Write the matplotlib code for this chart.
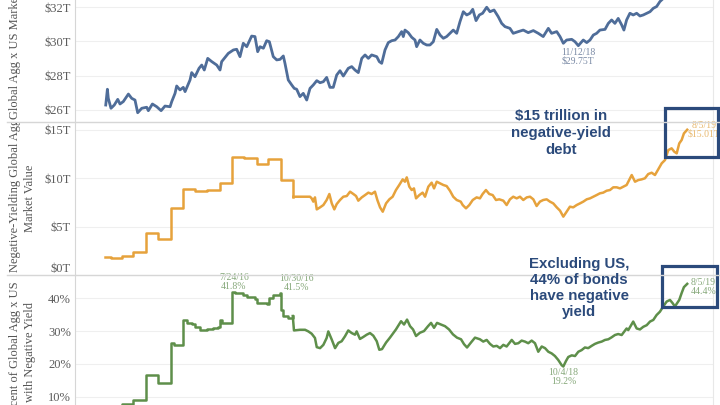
import matplotlib
matplotlib.use('Agg')
import matplotlib.pyplot as plt
from matplotlib.patches import Rectangle
from matplotlib.lines import Line2D
from matplotlib.transforms import Bbox, TransformedBbox

plt.rcParams['font.family'] = ['Liberation Serif', 'DejaVu Serif']

# ---- data (x in decimal years) ----
blue_t = [2015.718, 2015.729, 2015.735, 2015.753, 2015.775, 2015.798, 2015.813, 2015.835,
          2015.869, 2015.891, 2015.913, 2015.931, 2015.958, 2015.991, 2016.002, 2016.029,
          2016.058, 2016.087, 2016.113, 2016.147, 2016.158, 2016.180, 2016.191, 2016.213,
          2016.235, 2016.247, 2016.280, 2016.291, 2016.313, 2016.340, 2016.358, 2016.375,
          2016.398, 2016.425, 2016.458, 2016.480, 2016.491, 2016.535, 2016.569, 2016.591,
          2016.613, 2016.635, 2016.658, 2016.691, 2016.713, 2016.731, 2016.747, 2016.769,
          2016.791, 2016.809, 2016.835, 2016.858, 2016.880, 2016.902, 2016.913, 2016.935,
          2016.958, 2016.975, 2016.991, 2017.013, 2017.035, 2017.058, 2017.080, 2017.102,
          2017.125, 2017.147, 2017.169, 2017.191, 2017.213, 2017.235, 2017.258, 2017.280,
          2017.302, 2017.335, 2017.358, 2017.380, 2017.402, 2017.425, 2017.447, 2017.469,
          2017.491, 2017.525, 2017.542, 2017.558, 2017.580, 2017.602, 2017.625, 2017.647,
          2017.669, 2017.691, 2017.702, 2017.713, 2017.735, 2017.758, 2017.780, 2017.791,
          2017.813, 2017.835, 2017.858, 2017.880, 2017.902, 2017.925, 2017.947, 2017.969,
          2017.991, 2018.013, 2018.035, 2018.058, 2018.080, 2018.102, 2018.125, 2018.147,
          2018.165, 2018.187, 2018.209, 2018.231, 2018.258, 2018.280, 2018.307, 2018.335,
          2018.358, 2018.380, 2018.413, 2018.435, 2018.469, 2018.502, 2018.535, 2018.569,
          2018.602, 2018.635, 2018.669, 2018.691, 2018.725, 2018.747, 2018.769, 2018.791,
          2018.825, 2018.847, 2018.869, 2018.902, 2018.925, 2018.947, 2018.969, 2018.991,
          2019.013, 2019.047, 2019.069, 2019.091, 2019.113, 2019.135, 2019.158, 2019.173,
          2019.191, 2019.213, 2019.235, 2019.258, 2019.280, 2019.302, 2019.325, 2019.347,
          2019.369, 2019.391, 2019.413, 2019.447, 2019.493, 2019.547, 2019.595]
blue_v = [26.29, 27.21, 26.68, 26.10, 26.29, 26.62, 26.35, 26.49,
          26.93, 26.68, 26.58, 25.84, 26.10, 26.16, 25.96, 26.35,
          26.19, 25.96, 26.23, 26.19, 26.49, 26.97, 27.40, 27.17,
          27.32, 27.07, 27.75, 28.18, 27.94, 28.43, 28.62, 28.33,
          29.01, 28.82, 28.62, 28.33, 28.82, 29.30, 29.50, 29.54,
          29.11, 29.89, 29.69, 30.31, 30.28, 29.40, 29.69, 29.60,
          30.04, 29.98, 29.11, 28.92, 28.95, 29.15, 28.72, 27.75,
          27.46, 27.26, 27.21, 26.78, 26.97, 26.58, 27.26, 27.46,
          27.71, 27.59, 27.65, 27.90, 27.32, 27.32, 28.04, 28.29,
          27.98, 28.43, 28.53, 28.33, 28.18, 29.01, 29.21, 29.01,
          29.21, 29.11, 28.82, 28.72, 29.50, 29.93, 30.04, 30.08,
          30.28, 30.57, 30.28, 30.66, 30.51, 30.24, 30.08, 29.69,
          30.08, 29.89, 29.79, 29.79, 29.98, 30.70, 30.37, 30.18,
          30.28, 30.47, 30.66, 30.47, 31.15, 31.73, 31.54, 31.64,
          31.87, 31.21, 31.54, 31.64, 31.99, 31.73, 31.83, 31.44,
          31.05, 30.86, 30.76, 30.47, 30.57, 30.66, 30.51, 30.63,
          30.47, 30.28, 30.76, 30.47, 30.57, 30.28, 29.89, 30.08,
          30.12, 29.98, 29.75, 30.08, 29.93, 30.08, 30.37, 30.47,
          30.66, 30.70, 31.05, 31.25, 31.05, 31.34, 30.96, 30.66,
          31.25, 31.64, 31.54, 31.64, 31.48, 31.54, 31.64, 31.73,
          31.93, 32.03, 32.32, 32.60, 32.90, 33.10, 33.30]

orange_t = [2015.713, 2015.755, 2015.825, 2015.902, 2015.987, 2016.069, 2016.151, 2016.235,
            2016.313, 2016.395, 2016.480, 2016.558, 2016.640, 2016.725, 2016.802, 2016.887,
            2016.969, 2017.080, 2017.091, 2017.102, 2017.113, 2017.125, 2017.147, 2017.169,
            2017.191, 2017.209, 2017.225, 2017.242, 2017.258, 2017.280, 2017.302, 2017.325,
            2017.347, 2017.369, 2017.387, 2017.402, 2017.425, 2017.447, 2017.469, 2017.491,
            2017.513, 2017.529, 2017.547, 2017.565, 2017.587, 2017.609, 2017.631, 2017.653,
            2017.675, 2017.698, 2017.713, 2017.725, 2017.742, 2017.758, 2017.773, 2017.787,
            2017.809, 2017.831, 2017.847, 2017.869, 2017.891, 2017.907, 2017.925, 2017.947,
            2017.969, 2017.991, 2018.013, 2018.035, 2018.058, 2018.085, 2018.098, 2018.120,
            2018.142, 2018.165, 2018.191, 2018.213, 2018.231, 2018.253, 2018.275, 2018.298,
            2018.320, 2018.342, 2018.369, 2018.391, 2018.413, 2018.435, 2018.458, 2018.480,
            2018.502, 2018.525, 2018.547, 2018.569, 2018.591, 2018.613, 2018.635, 2018.658,
            2018.680, 2018.702, 2018.725, 2018.747, 2018.769, 2018.791, 2018.813, 2018.835,
            2018.858, 2018.880, 2018.902, 2018.925, 2018.947, 2018.969, 2018.991, 2019.013,
            2019.035, 2019.058, 2019.080, 2019.102, 2019.125, 2019.147, 2019.191, 2019.225,
            2019.247, 2019.269, 2019.291, 2019.313, 2019.335, 2019.358, 2019.380, 2019.402,
            2019.425, 2019.447, 2019.469, 2019.491, 2019.509, 2019.525, 2019.542, 2019.558,
            2019.573, 2019.595]
orange_v = [1.83, 1.74, 1.96, 2.34, 4.30, 3.72, 6.96, 8.88,
            8.68, 8.82, 9.54, 12.16, 12.05, 11.43, 11.95, 9.85,
            8.09, 8.09, 7.92, 7.58, 8.02, 6.78, 6.99, 7.23,
            7.75, 8.37, 7.40, 6.78, 7.33, 7.75, 8.09, 8.16,
            8.61, 8.37, 8.16, 7.68, 8.02, 8.26, 8.51, 8.37,
            8.61, 7.75, 6.99, 6.54, 7.40, 7.82, 8.09, 8.78,
            9.30, 9.88, 9.64, 10.09, 9.13, 8.78, 8.95, 7.92,
            8.26, 8.51, 8.09, 9.13, 9.54, 8.95, 9.64, 9.47,
            9.30, 9.19, 8.71, 8.09, 7.75, 7.58, 7.23, 6.89,
            7.23, 7.75, 8.02, 7.92, 8.37, 8.78, 8.37, 8.26,
            7.75, 7.82, 7.68, 7.23, 7.82, 8.09, 7.92, 8.09,
            7.75, 8.02, 8.09, 7.82, 7.13, 7.58, 7.75, 7.82,
            7.58, 7.40, 6.99, 6.65, 6.03, 6.54, 7.06, 6.99,
            7.23, 7.40, 7.58, 7.82, 7.92, 8.09, 8.26, 8.44,
            8.51, 8.71, 8.78, 9.06, 9.06, 8.95, 9.30, 10.33,
            9.64, 9.81, 9.88, 9.99, 10.43, 10.57, 10.33, 10.92,
            11.54, 11.88, 12.91, 13.09, 12.74, 12.57, 13.60, 13.95,
            14.63, 15.01]

green_t = [2015.713, 2015.825, 2015.902, 2015.987, 2016.069, 2016.151, 2016.170, 2016.235,
           2016.262, 2016.291, 2016.313, 2016.347, 2016.391, 2016.435, 2016.469, 2016.480,
           2016.491, 2016.547, 2016.558, 2016.580, 2016.613, 2016.635, 2016.658, 2016.691,
           2016.713, 2016.729, 2016.769, 2016.795, 2016.809, 2016.835, 2016.880, 2016.885,
           2016.902, 2016.935, 2016.965, 2016.973, 2017.013, 2017.047, 2017.069, 2017.091,
           2017.113, 2017.125, 2017.147, 2017.169, 2017.191, 2017.202, 2017.225, 2017.247,
           2017.269, 2017.291, 2017.313, 2017.335, 2017.358, 2017.380, 2017.391, 2017.413,
           2017.435, 2017.458, 2017.480, 2017.502, 2017.525, 2017.542, 2017.560, 2017.587,
           2017.613, 2017.653, 2017.687, 2017.707, 2017.727, 2017.747, 2017.767, 2017.787,
           2017.813, 2017.840, 2017.867, 2017.887, 2017.907, 2017.927, 2017.953, 2017.980,
           2018.007, 2018.033, 2018.060, 2018.087, 2018.107, 2018.127, 2018.153, 2018.180,
           2018.213, 2018.235, 2018.258, 2018.280, 2018.302, 2018.325, 2018.347, 2018.369,
           2018.391, 2018.425, 2018.447, 2018.469, 2018.491, 2018.513, 2018.535, 2018.558,
           2018.580, 2018.602, 2018.625, 2018.647, 2018.669, 2018.691, 2018.713, 2018.735,
           2018.758, 2018.769, 2018.787, 2018.802, 2018.825, 2018.847, 2018.869, 2018.891,
           2018.913, 2018.935, 2018.958, 2018.980, 2019.002, 2019.025, 2019.047, 2019.069,
           2019.091, 2019.113, 2019.135, 2019.158, 2019.191, 2019.202, 2019.235, 2019.258,
           2019.280, 2019.302, 2019.325, 2019.347, 2019.369, 2019.391, 2019.413, 2019.435,
           2019.458, 2019.480, 2019.498, 2019.513, 2019.542, 2019.558, 2019.573, 2019.595]
green_v = [6.0, 7.8, 9.0, 16.6, 14.1, 26.5, 25.9, 33.4,
           32.4, 32.2, 31.2, 30.4, 30.6, 30.8, 31.2, 33.4,
           32.6, 32.4, 41.8, 41.6, 41.5, 41.0, 40.5, 40.3,
           39.7, 38.7, 38.5, 38.3, 40.0, 41.0, 41.5, 36.4,
           34.6, 33.9, 34.6, 30.2, 30.4, 30.4, 29.9, 29.2,
           27.9, 25.1, 24.8, 25.8, 27.9, 29.9, 27.4, 24.8,
           26.4, 26.9, 28.4, 30.2, 29.4, 28.9, 29.9, 27.6,
           28.2, 28.9, 29.4, 28.6, 26.9, 24.3, 24.5, 26.5,
           28.0, 30.5, 33.0, 32.0, 33.5, 31.5, 30.5, 28.5,
           29.5, 30.0, 31.5, 32.5, 31.0, 32.5, 32.0, 31.5,
           30.5, 29.0, 28.0, 27.5, 26.0, 25.0, 26.5, 28.0,
           27.5, 26.8, 27.3, 26.1, 25.3, 25.5, 24.8, 25.8,
           25.3, 27.3, 26.1, 26.3, 27.1, 26.8, 26.3, 27.1,
           26.3, 23.7, 25.3, 24.8, 23.7, 23.2, 22.4, 21.2,
           19.6, 19.2, 20.9, 22.1, 22.6, 22.4, 23.7, 24.2,
           25.0, 24.8, 25.5, 26.1, 26.5, 26.8, 27.3, 27.5,
           28.1, 28.8, 29.1, 28.8, 30.8, 30.3, 32.9, 30.8,
           30.5, 31.3, 31.8, 32.9, 33.4, 34.9, 35.9, 37.5,
           39.0, 39.5, 38.5, 37.5, 39.5, 41.6, 43.4, 44.4]

# monthly readings before this point, daily after it
DAILY_FROM = 2016.965

# annotated points: (x, value, label)
blue_notes = [(2018.869, 29.75, '11/12/18\n$29.75T')]
orange_notes = [(2019.595, 15.01, '8/5/19\n$15.01T')]
green_notes = [(2016.558, 41.8, '7/24/16\n41.8%'),
               (2016.880, 41.5, '10/30/16\n41.5%'),
               (2018.769, 19.2, '10/4/18\n19.2%'),
               (2019.595, 44.4, '8/5/19\n44.4%')]

blue_ticks = [26, 28, 30, 32]
blue_labels = ['$26T', '$28T', '$30T', '$32T']
orange_ticks = [0, 5, 10, 15]
orange_labels = ['$0T', '$5T', '$10T', '$15T']
green_ticks = [10, 20, 30, 40]
green_labels = ['10%', '20%', '30%', '40%']

BLUE = '#4f6d99'
ORANGE = '#e6a23c'
GREEN = '#5e8f4a'
NAVY = '#2b4a7b'
LINE_GRAY = '#d6d6d6'

W, H = 720, 405
fig = plt.figure(figsize=(7.2, 4.05), dpi=100)


def fx(px):
    return px / W


def fy(py):
    return 1 - py / H


def split_plot(ax, t, v, color):
    # step line for the monthly part, plain line for the daily part
    k = next(i for i, x in enumerate(t) if x >= DAILY_FROM)
    ax.plot(t[:k + 1], v[:k + 1], color=color, lw=1.8, drawstyle='steps-post')
    ax.plot(t[k:], v[k:], color=color, lw=1.8, solid_joinstyle='round')


left, right = 75, 713
panels = [(-31, 122), (122, 275), (275, 428)]
axes = []
for top, bot in panels:
    ax = fig.add_axes([fx(left), fy(bot), fx(right - left), (bot - top) / H])
    axes.append(ax)

ax1, ax2, ax3 = axes
xlim = (2015.513, 2019.767)

ax1.plot(blue_t, blue_v, color=BLUE, lw=2.0, solid_joinstyle='round')
ax1.set_ylim(25.30, 34.22)
ax1.set_yticks(blue_ticks, blue_labels)

split_plot(ax2, orange_t, orange_v, ORANGE)
ax2.set_ylim(0, 15.81)
ax2.set_yticks(orange_ticks, orange_labels)

split_plot(ax3, green_t, green_v, GREEN)
ax3.set_ylim(0.45, 47.1)
ax3.set_yticks(green_ticks, green_labels)

for ax in axes:
    ax.set_xlim(*xlim)
    ax.set_xticks([])
    ax.grid(axis='y', color='#efefef', lw=0.8)
    ax.set_axisbelow(True)
    ax.tick_params(axis='y', length=0, pad=3, labelsize=9, labelcolor='#5c5c5c')
    for s in ['top', 'bottom']:
        ax.spines[s].set_visible(False)
    ax.spines['left'].set_color(LINE_GRAY)
    ax.spines['right'].set_color('#e8e8e8')
    ax.patch.set_alpha(0)

ax2.get_yticklabels()[0].set_va('bottom')

note_kw = dict(textcoords='offset points', fontsize=7, multialignment='center',
               linespacing=1.0)
for x, v, s in blue_notes:
    ax1.annotate(s, (x, v), xytext=(0, -1.5), ha='center', va='top',
                 color='#7a8aa5', **note_kw)
for x, v, s in orange_notes:
    ax2.annotate(s, (x, v), xytext=(0.5, 0), ha='left', va='center',
                 color='#e8b86d', **note_kw)
green_offsets = [(1.5, 1), (12, 1), (0, -1), (2.2, -2.2)]
green_align = [('center', 'bottom'), ('center', 'bottom'), ('center', 'top'), ('left', 'center')]
for (x, v, s), off, (ha, va) in zip(green_notes, green_offsets, green_align):
    ax3.annotate(s, (x, v), xytext=off, ha=ha, va=va, color='#86a87a', **note_kw)

# separators between panes
for py in [122, 275]:
    fig.add_artist(Line2D([fx(7), 1], [fy(py), fy(py)], color=LINE_GRAY, lw=1))

# axis titles
title_kw = dict(rotation=90, fontsize=9, color='#555555')


def pane_clip(t, top, bot):
    box = TransformedBbox(Bbox([[0, fy(bot)], [1, fy(top)]]), fig.transFigure)
    t.set_clip_box(box)
    t.set_clip_on(True)


fig.text(fx(15), fy(119), 'Global Agg x US Market Value', ha='center', va='bottom', **title_kw)
t = fig.text(fx(15), fy(272), 'Negative-Yielding Global Agg x US', ha='center', va='bottom', **title_kw)
pane_clip(t, 123, 275)
fig.text(fx(30), fy(198.5), 'Market Value', ha='center', va='center', **title_kw)
fig.text(fx(15), fy(351.5), 'Percent of Global Agg x US', ha='center', va='center', **title_kw)
fig.text(fx(30), fy(351.5), 'with Negative Yield', ha='center', va='center', **title_kw)

# call-outs
call_kw = dict(ha='center', va='center', fontsize=10.8, fontweight='bold', color=NAVY,
               family=['Liberation Sans', 'DejaVu Sans'])
fig.text(fx(561), fy(133), '$15 trillion in\nnegative-yield\ndebt', linespacing=1.3, **call_kw)
fig.text(fx(579), fy(288), 'Excluding US,\n44% of bonds\nhave negative\nyield', linespacing=1.2, **call_kw)

fig.add_artist(Rectangle((fx(665), fy(157)), fx(53), 49 / H, fill=False,
                         edgecolor=NAVY, lw=2.3))
fig.add_artist(Rectangle((fx(662), fy(307)), fx(55), 41 / H, fill=False,
                         edgecolor=NAVY, lw=2.3))

fig.savefig('out.png', dpi=100, facecolor='white')
print('done')
